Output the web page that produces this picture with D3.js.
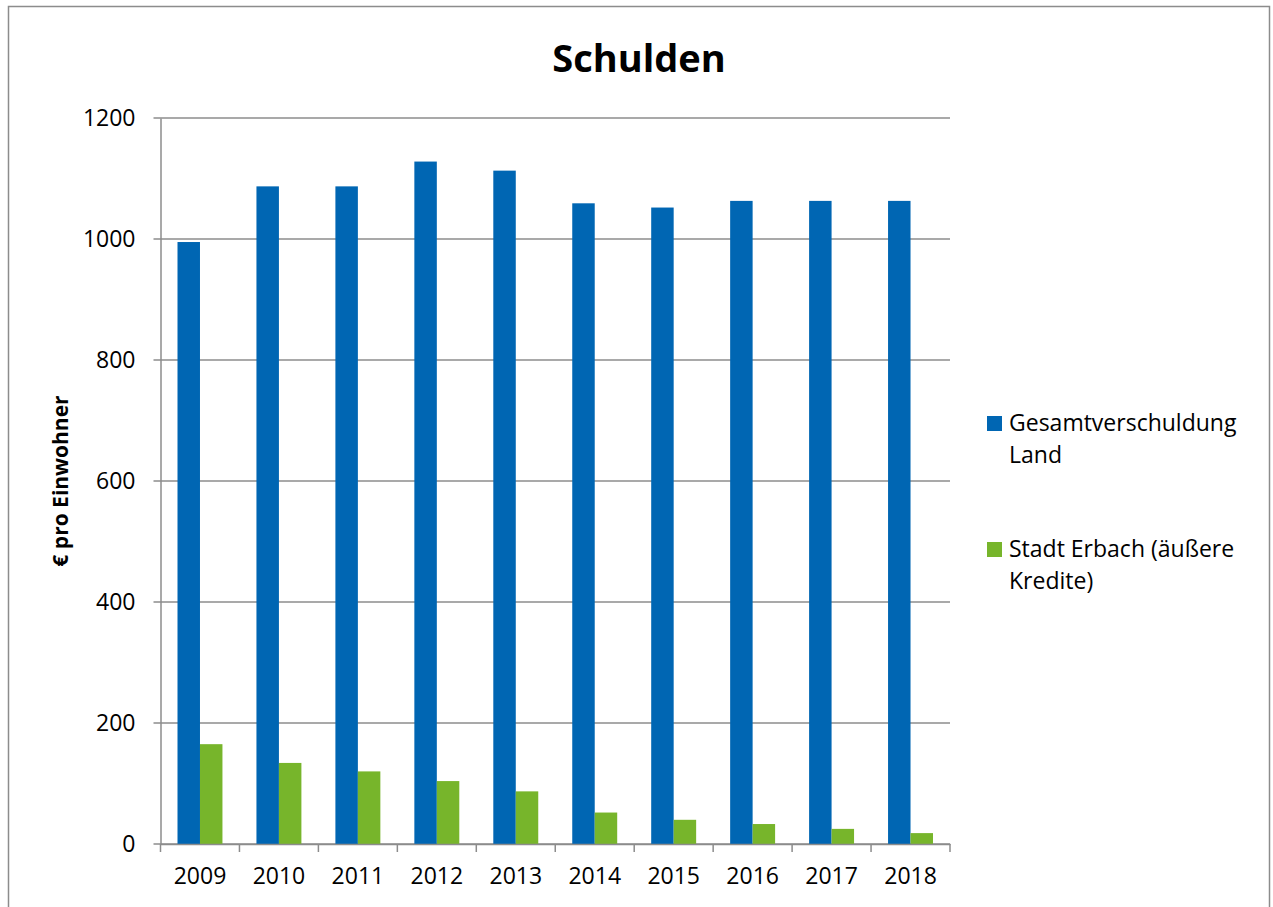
<!DOCTYPE html>
<html>
<head>
<meta charset="utf-8">
<script src="https://cdn.jsdelivr.net/npm/d3@7"></script>
<style>
  body { margin: 0; background: #fff; }
  text { font-family: "Open Sans", sans-serif; fill: #000; }
</style>
</head>
<body>
<div id="chart"></div>
<script>
// data
var years = ["2009", "2010", "2011", "2012", "2013", "2014", "2015", "2016", "2017", "2018"];
var landValues = [995, 1087, 1087, 1128, 1113, 1059, 1052, 1063, 1063, 1063];
var erbachValues = [165, 134, 120, 104, 87, 52, 40, 33, 25, 18];
var seriesNames = ["Gesamtverschuldung Land", "Stadt Erbach (äußere Kredite)"];
var legendLines = [["Gesamtverschuldung", "Land"], ["Stadt Erbach (äußere", "Kredite)"]];
var seriesColors = ["#0066b3", "#77b52b"];
var yTicks = [0, 200, 400, 600, 800, 1000, 1200];

var W = 1273, H = 907;
var margin = {top: 118, left: 160.5, right: 323, bottom: 63};
var width = W - margin.left - margin.right,
    height = H - margin.top - margin.bottom;

var svg = d3.select("#chart").append("svg")
    .attr("width", W)
    .attr("height", H);

//outer chart border
svg.append("rect")
    .attr("x", 8.5).attr("y", 6.5)
    .attr("width", 1261).attr("height", 920)
    .attr("fill", "none")
    .attr("stroke", "#8c8c8c")
    .attr("stroke-width", 1.5);

svg.append("text")
    .attr("x", 639).attr("y", 72)
    .attr("text-anchor", "middle")
    .style("font-size", "38px")
    .style("font-weight", "bold")
    .text("Schulden");

var g = svg.append("g")
    .attr("transform", "translate(" + margin.left + "," + margin.top + ")");

var x0 = d3.scaleBand().domain(years).range([0, width]).paddingInner(0).paddingOuter(0);
var groupPad = 17;
var x1 = d3.scaleBand().domain([0, 1])
    .range([groupPad, x0.bandwidth() - groupPad]);
var y = d3.scaleLinear().domain([0, 1200]).range([height, 0]);

//gridlines
g.selectAll(".grid")
    .data(yTicks)
    .enter().append("line")
    .attr("x1", -7).attr("x2", width)
    .attr("y1", function (d) { return y(d); })
    .attr("y2", function (d) { return y(d); })
    .attr("stroke", "#8c8c8c")
    .attr("stroke-width", 1.5);

//y axis
var yAxis = g.append("g")
    .call(d3.axisLeft(y).tickValues(yTicks).tickFormat(d3.format("d")).tickSize(0).tickPadding(25));
yAxis.select(".domain").attr("stroke", "#8c8c8c").attr("stroke-width", 1.5);
yAxis.selectAll("text").style("font-size", "23px").attr("font-family", null);

//bars
var groups = g.selectAll(".yr")
    .data(years)
    .enter().append("g")
    .attr("transform", function (d) { return "translate(" + x0(d) + ",0)"; });

groups.selectAll("rect")
    .data(function (d, i) { return [landValues[i], erbachValues[i]]; })
    .enter().append("rect")
    .attr("x", function (d, j) { return x1(j); })
    .attr("width", x1.bandwidth())
    .attr("y", function (d) { return y(d); })
    .attr("height", function (d) { return height - y(d); })
    .attr("fill", function (d, j) { return seriesColors[j]; });

//x axis
var xAxis = g.append("g")
    .attr("transform", "translate(0," + height + ")")
    .call(d3.axisBottom(x0).tickSize(0).tickPadding(24));
xAxis.select(".domain").attr("stroke", "#8c8c8c").attr("stroke-width", 1.5);
xAxis.selectAll("text").style("font-size", "23px").attr("font-family", null);

//x tick marks at category boundaries
var bounds = years.map(function (d) { return x0(d); }).concat([width]);
xAxis.selectAll(".bound")
    .data(bounds)
    .enter().append("line")
    .attr("x1", function (d) { return d; })
    .attr("x2", function (d) { return d; })
    .attr("y1", 0).attr("y2", 8)
    .attr("stroke", "#8c8c8c")
    .attr("stroke-width", 1.5);

//y axis title
svg.append("text")
    .attr("transform", "translate(68,481) rotate(-90)")
    .attr("text-anchor", "middle")
    .style("font-size", "21px")
    .style("font-weight", "bold")
    .text("€ pro Einwohner");

//legend
var legendY = [431, 557];
var legend = svg.selectAll(".legend")
    .data(seriesNames)
    .enter().append("g")
    .attr("transform", function (d, i) { return "translate(987," + legendY[i] + ")"; });

legend.append("rect")
    .attr("x", 0).attr("y", -15)
    .attr("width", 15).attr("height", 15)
    .attr("fill", function (d, i) { return seriesColors[i]; });

legend.append("text")
    .attr("x", 22)
    .style("font-size", "23px")
    .selectAll("tspan")
    .data(function (d, i) { return legendLines[i]; })
    .enter().append("tspan")
    .attr("x", 22)
    .attr("dy", function (d, k) { return k === 0 ? 0 : 32; })
    .text(function (d) { return d; });
</script>
</body>
</html>
